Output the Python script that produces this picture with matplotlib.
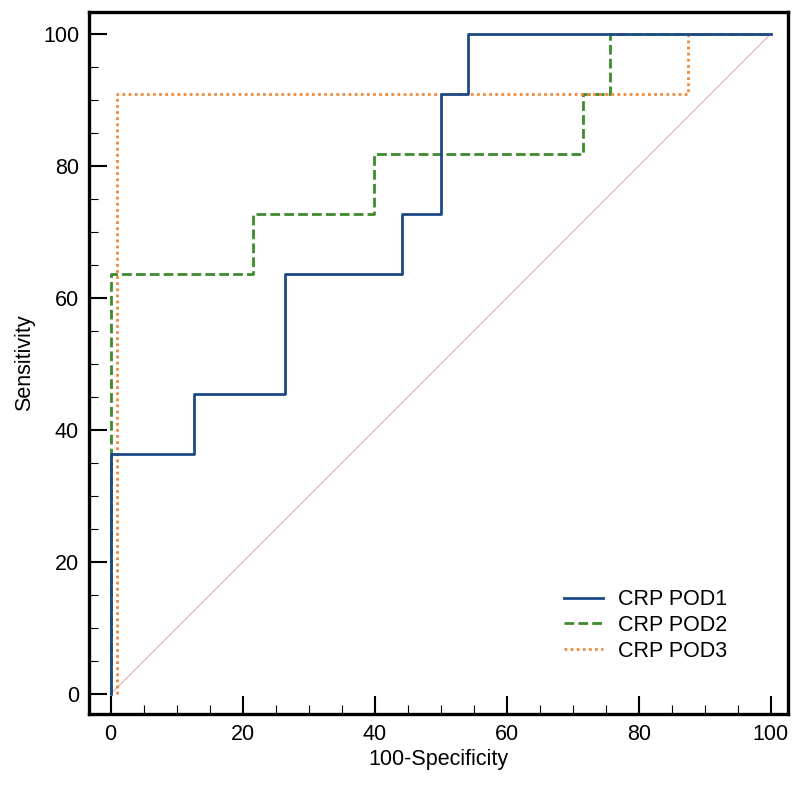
import numpy as np
import matplotlib.pyplot as plt
from matplotlib.ticker import MultipleLocator

plt.rcParams['font.family'] = ['Liberation Sans', 'DejaVu Sans']

# ROC step coordinates (100-Specificity, Sensitivity)
pod1_x = [0, 0, 12.6, 12.6, 26.4, 26.4, 44.2, 44.2, 50.0, 50.0, 54.1, 54.1, 100]
pod1_y = [0, 36.36, 36.36, 45.45, 45.45, 63.64, 63.64, 72.73, 72.73, 90.91, 90.91, 100, 100]

pod2_x = [0, 0, 21.6, 21.6, 39.9, 39.9, 71.6, 71.6, 75.6, 75.6, 100]
pod2_y = [0, 63.64, 63.64, 72.73, 72.73, 81.82, 81.82, 90.91, 90.91, 100, 100]

pod3_x = [0.9, 0.9, 87.5, 87.5, 100]
pod3_y = [0, 90.91, 90.91, 100, 100]

labels = ['CRP POD1', 'CRP POD2', 'CRP POD3']
colors = ['#1d4a86', '#3d8b2c', '#ee8a3c']

fig = plt.figure(figsize=(8, 7.9), dpi=100)
ax = fig.add_axes([0.111, 0.0962, 0.874, 0.8886])

# reference diagonal
ax.plot([0, 100], [0, 100], color='#d9a7a4', lw=0.7, zorder=1)

ax.plot(pod1_x, pod1_y, color=colors[0], lw=2.0, ls='-', label=labels[0], zorder=3)
ax.plot(pod2_x, pod2_y, color=colors[1], lw=2.0, ls=(0, (3.5, 1.5)), label=labels[1], zorder=2)
ax.plot(pod3_x, pod3_y, color=colors[2], lw=2.0, ls=(0, (1, 1.2)), label=labels[2], zorder=2)

ax.set_xlim(-3.3, 102.6)
ax.set_ylim(-3.0, 103.3)

ax.xaxis.set_major_locator(MultipleLocator(20))
ax.xaxis.set_minor_locator(MultipleLocator(5))
ax.yaxis.set_major_locator(MultipleLocator(20))
ax.yaxis.set_minor_locator(MultipleLocator(5))
ax.tick_params(which='major', direction='in', length=13, width=1.5, labelsize=15.5, pad=7)
ax.tick_params(which='minor', direction='in', length=6.5, width=0.8)

for s in ax.spines.values():
    s.set_linewidth(2.4)

ax.set_xlabel('100-Specificity', fontsize=15.5, labelpad=3)
ax.set_ylabel('Sensitivity', fontsize=15.5, labelpad=6)

leg = ax.legend(loc='lower right', frameon=False, fontsize=15.5, handlelength=1.8,
                handletextpad=0.7, labelspacing=0.22, bbox_to_anchor=(0.941, 0.047))

fig.savefig('out.png', dpi=100)
